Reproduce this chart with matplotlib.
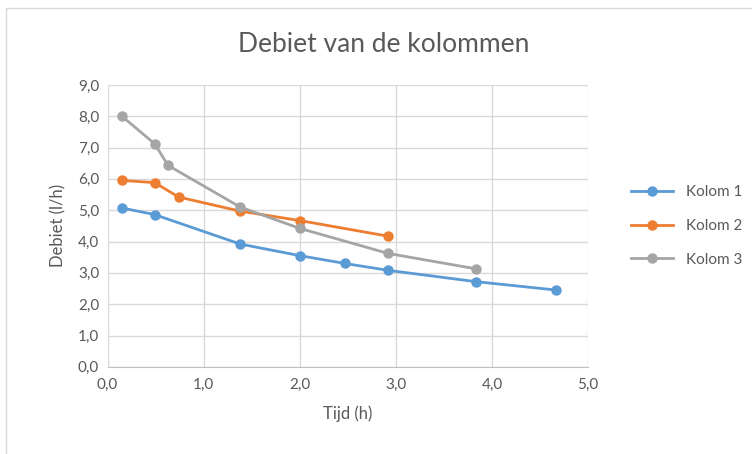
import matplotlib
matplotlib.use("Agg")
import matplotlib.pyplot as plt
from matplotlib.ticker import FuncFormatter, MultipleLocator
from matplotlib.patches import Rectangle

# Data
kolom1_x = [0.15, 0.49, 1.38, 2.0, 2.47, 2.92, 3.83, 4.67]
kolom1_y = [5.07, 4.86, 3.92, 3.55, 3.30, 3.08, 2.72, 2.45]

kolom2_x = [0.15, 0.49, 0.74, 1.38, 2.0, 2.92]
kolom2_y = [5.95, 5.88, 5.42, 4.97, 4.67, 4.17]

kolom3_x = [0.15, 0.49, 0.63, 1.38, 2.0, 2.92, 3.83]
kolom3_y = [8.00, 7.12, 6.43, 5.10, 4.42, 3.62, 3.13]

series_names = ["Kolom 1", "Kolom 2", "Kolom 3"]
series_colors = ["#5B9BD5", "#ED7D31", "#A5A5A5"]

plt.rcParams['font.family'] = ['Lato', 'DejaVu Sans']
text_color = "#595959"

fig = plt.figure(figsize=(7.52, 4.54), dpi=100)
ax = fig.add_axes([0.143, 0.192, 0.639, 0.621])

for xs, ys, name, c in zip([kolom1_x, kolom2_x, kolom3_x],
                           [kolom1_y, kolom2_y, kolom3_y],
                           series_names, series_colors):
    ax.plot(xs, ys, color=c, lw=2.0, marker='o', markersize=6.5, label=name)

ax.set_xlim(0, 5)
ax.set_ylim(0, 9)
ax.xaxis.set_major_locator(MultipleLocator(1))
ax.yaxis.set_major_locator(MultipleLocator(1))
comma = FuncFormatter(lambda v, p: f"{v:.1f}".replace(".", ","))
ax.xaxis.set_major_formatter(comma)
ax.yaxis.set_major_formatter(comma)

ax.grid(True, color="#D9D9D9", lw=1)
ax.set_axisbelow(True)
for s in ["top", "right", "left"]:
    ax.spines[s].set_visible(False)
ax.spines["bottom"].set_color("#BFBFBF")
ax.tick_params(length=0, labelsize=11, colors=text_color, pad=8)
ax.tick_params(axis='y', pad=6)

ax.set_xlabel("Tijd (h)", fontsize=12, color=text_color, labelpad=10)
ax.set_ylabel("Debiet (l/h)", fontsize=12, color=text_color, labelpad=8)
fig.text(0.51, 0.903, "Debiet van de kolommen", ha='center', va='center',
         fontsize=19, color=text_color)

ax.legend(loc='center left', bbox_to_anchor=(1.06, 0.5), frameon=False,
          fontsize=11, labelcolor=text_color, handlelength=2.8,
          labelspacing=1.3)

# chart border like the spreadsheet frame
fig.patches.append(Rectangle((0.008, -0.1), 1.1, 1.082, transform=fig.transFigure,
                             fill=False, edgecolor="#D9D9D9", lw=1))

fig.savefig("out.png", dpi=100)
